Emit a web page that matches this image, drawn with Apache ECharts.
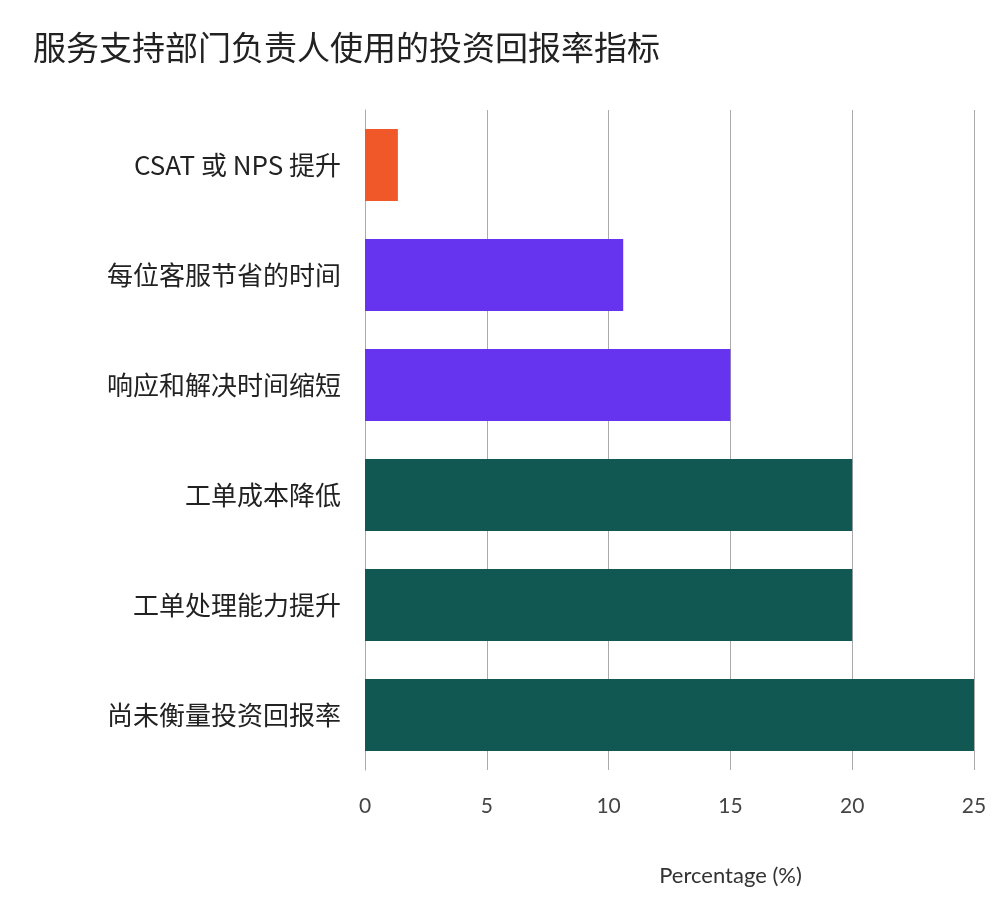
<!DOCTYPE html>
<html><head><meta charset="utf-8">
<script src="https://cdn.jsdelivr.net/npm/echarts@6/dist/echarts.min.js"></script>
<style>html,body{margin:0;padding:0;background:#fff}#c{width:1000px;height:900px}</style>
</head><body><div id="c"></div>
<script>
const categories = ["尚未衡量投资回报率","工单处理能力提升","工单成本降低","响应和解决时间缩短","每位客服节省的时间","CSAT 或 NPS 提升"];
const values = [25, 20, 20, 15, 10.6, 1.35];
const colors = ["#115752","#115752","#115752","#6633ee","#6633ee","#f0582a"];
const xTicks = [0,5,10,15,20,25];
const chart = echarts.init(document.getElementById('c'));
chart.setOption({
  animation:false,
  title:{text:"服务支持部门负责人使用的投资回报率指标",left:28,top:26,textStyle:{fontSize:33,fontWeight:'normal',color:'#222',fontFamily:'Noto Sans CJK SC'}},
  grid:{left:365,right:26,top:110,bottom:130},
  xAxis:{type:'value',min:0,max:25,interval:5,
    name:'Percentage (%)',nameLocation:'middle',nameGap:95,
    nameTextStyle:{fontSize:22,color:'#333',fontFamily:'Lato',padding:[0,0,0,122]},
    axisLabel:{fontSize:21,color:'#444',margin:26,fontFamily:'Lato'},
    axisLine:{show:false},axisTick:{show:false},
    splitLine:{lineStyle:{color:'#aaa',width:1}}},
  yAxis:{type:'category',data:categories,
    axisLine:{show:true,lineStyle:{color:'#aaa'}},axisTick:{show:false},
    axisLabel:{fontSize:26,color:'#222',margin:24,fontFamily:'Noto Sans CJK SC'}},
  series:[{type:'bar',data:values.map((v,i)=>({value:v,itemStyle:{color:colors[i]}})),barWidth:72}]
});
</script></body></html>
